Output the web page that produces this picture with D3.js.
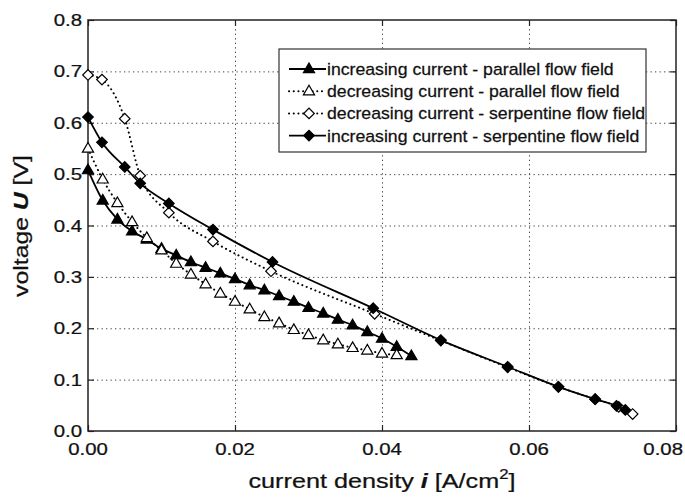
<!DOCTYPE html>
<html>
  <head>
    <meta charset="UTF-8" />
    <script src="https://d3js.org/d3.v7.min.js"></script>
    <style>
      body { margin: 0; background: #fff; }
      text { font-family: "Liberation Sans", Arial, sans-serif; fill: #111; stroke: #111; stroke-width: 0.25; }
    </style>
  </head>
  <body>
    <div id="chart"></div>
    <script>
      // values
      // increasing current - parallel flow field (filled triangles)
      var iParInc = [0, 0.002, 0.004, 0.006, 0.008, 0.010, 0.012, 0.014, 0.016, 0.018, 0.020, 0.022,
                     0.024, 0.026, 0.028, 0.030, 0.032, 0.034, 0.036, 0.038, 0.040, 0.042, 0.044];
      var uParInc = [0.508, 0.449, 0.412, 0.389, 0.373, 0.355, 0.342, 0.329, 0.318, 0.307, 0.296, 0.284,
                     0.274, 0.263, 0.252, 0.240, 0.229, 0.217, 0.206, 0.193, 0.180, 0.164, 0.146];
      // decreasing current - parallel flow field (open triangles)
      var iParDec = [0, 0.002, 0.004, 0.006, 0.008, 0.010, 0.012, 0.014, 0.016, 0.018, 0.020,
                     0.022, 0.024, 0.026, 0.028, 0.030, 0.032, 0.034, 0.036, 0.038, 0.040, 0.042];
      var uParDec = [0.550, 0.490, 0.444, 0.407, 0.376, 0.352, 0.326, 0.305, 0.286, 0.268, 0.252,
                     0.237, 0.222, 0.210, 0.197, 0.187, 0.177, 0.169, 0.162, 0.157, 0.151, 0.148];
      // decreasing current - serpentine flow field (open diamonds)
      var iSerDec = [0, 0.0019, 0.005, 0.0071, 0.011, 0.017, 0.0249, 0.039, 0.048, 0.0571, 0.064, 0.069, 0.0722, 0.0741];
      var uSerDec = [0.693, 0.684, 0.608, 0.497, 0.425, 0.369, 0.311, 0.228, 0.176, 0.124, 0.086, 0.062, 0.047, 0.033];
      // increasing current - serpentine flow field (filled diamonds)
      var iSerInc = [0, 0.0019, 0.005, 0.0071, 0.011, 0.017, 0.0251, 0.0388, 0.048, 0.0571, 0.064, 0.069, 0.0719, 0.0731];
      var uSerInc = [0.611, 0.562, 0.514, 0.482, 0.443, 0.392, 0.329, 0.239, 0.177, 0.125, 0.086, 0.062, 0.049, 0.041];

      var legendLabels = ["increasing current - parallel flow field",
                          "decreasing current - parallel flow field",
                          "decreasing current - serpentine flow field",
                          "increasing current - serpentine flow field"];
      var xTicks = [0, 0.02, 0.04, 0.06, 0.08];
      var yTicks = [0, 0.1, 0.2, 0.3, 0.4, 0.5, 0.6, 0.7, 0.8];

      var width = 685, height = 498;
      var margin = { top: 20, right: 9, bottom: 67, left: 88 };

      var svg = d3.select("#chart").append("svg")
        .attr("width", width).attr("height", height);

      var x = d3.scaleLinear().domain([0, 0.08]).range([margin.left, width - margin.right]);
      var y = d3.scaleLinear().domain([0, 0.8]).range([height - margin.bottom, margin.top]);

      var series = [
        { i: iParInc, u: uParInc, marker: "tri", fill: true, dotted: false },
        { i: iParDec, u: uParDec, marker: "tri", fill: false, dotted: true },
        { i: iSerDec, u: uSerDec, marker: "dia", fill: false, dotted: true },
        { i: iSerInc, u: uSerInc, marker: "dia", fill: true, dotted: false }
      ];

      // grid
      var gridStyle = function (g) {
        g.select(".domain").remove();
        g.selectAll("line").attr("stroke", "#444").attr("stroke-width", 1)
          .attr("stroke-dasharray", "1.3,3.2");
      };
      svg.append("g")
        .attr("transform", "translate(0," + y(0) + ")")
        .call(d3.axisBottom(x).tickValues([0.02, 0.04, 0.06]).tickSize(-(y(0) - y(0.8))).tickFormat(""))
        .call(gridStyle);
      svg.append("g")
        .attr("transform", "translate(" + x(0) + ",0)")
        .call(d3.axisLeft(y).tickValues([0.1, 0.2, 0.3, 0.4, 0.5, 0.6, 0.7]).tickSize(-(x(0.08) - x(0))).tickFormat(""))
        .call(gridStyle);

      // inward ticks on all four sides
      var tickStyle = function (g) {
        g.select(".domain").remove();
        g.selectAll("line").attr("stroke", "#222").attr("stroke-width", 1.2);
      };
      svg.append("g").attr("transform", "translate(0," + y(0) + ")")
        .call(d3.axisBottom(x).tickValues(xTicks).tickSize(-6).tickFormat("")).call(tickStyle);
      svg.append("g").attr("transform", "translate(0," + y(0.8) + ")")
        .call(d3.axisTop(x).tickValues(xTicks).tickSize(-6).tickFormat("")).call(tickStyle);
      svg.append("g").attr("transform", "translate(" + x(0) + ",0)")
        .call(d3.axisLeft(y).tickValues(yTicks).tickSize(-6).tickFormat("")).call(tickStyle);
      svg.append("g").attr("transform", "translate(" + x(0.08) + ",0)")
        .call(d3.axisRight(y).tickValues(yTicks).tickSize(-6).tickFormat("")).call(tickStyle);

      // frame
      svg.append("rect")
        .attr("x", x(0)).attr("y", y(0.8))
        .attr("width", x(0.08) - x(0)).attr("height", y(0) - y(0.8))
        .attr("fill", "none").attr("stroke", "#222").attr("stroke-width", 1.5);

      // tick labels (font is a bit wider than Arial, so stretch horizontally)
      function stretched(px, py, sx, size, anchor) {
        return svg.append("text")
          .attr("transform", "translate(" + px + "," + py + ") scale(" + sx + ",1)")
          .attr("font-size", size).attr("text-anchor", anchor);
      }
      yTicks.forEach(function (t) {
        stretched(82, y(t) + 6, 1.2, 17, "end").text(d3.format(".1f")(t));
      });
      xTicks.forEach(function (t, k) {
        var px = x(t), anchor = "middle";
        if (k === xTicks.length - 1) { px = 683; anchor = "end"; }
        stretched(px, 455, 1.2, 17, anchor).text(d3.format(".2f")(t));
      });

      // axis titles
      var xl = stretched(382, 488, 1.2, 21, "middle");
      xl.append("tspan").text("current density ");
      xl.append("tspan").attr("font-weight", "bold").attr("font-style", "italic").text("i");
      xl.append("tspan").text(" [A/cm");
      xl.append("tspan").attr("font-size", 14).attr("dy", -9).text("2");
      xl.append("tspan").attr("dy", 9).text("]");

      var yl = svg.append("text")
        .attr("transform", "translate(28,226) rotate(-90) scale(1.18,1)")
        .attr("font-size", 21).attr("text-anchor", "middle");
      yl.append("tspan").text("voltage ");
      yl.append("tspan").attr("font-weight", "bold").attr("font-style", "italic").text("U");
      yl.append("tspan").text(" [V]");

      // markers
      var triSym = d3.symbol().type(d3.symbolTriangle).size(54);
      var diaSym = d3.symbol().type(d3.symbolSquare).size(56);
      function drawMarker(g, s, px, py) {
        var p = g.append("path")
          .attr("fill", s.fill ? "#000" : "#fff")
          .attr("stroke", "#000").attr("stroke-width", 1.2);
        if (s.marker === "tri") {
          p.attr("d", triSym()).attr("transform", "translate(" + px + "," + (py + 0.5) + ")");
        } else {
          p.attr("d", diaSym()).attr("transform", "translate(" + px + "," + py + ") rotate(45)");
        }
      }

      var line = d3.line().curve(d3.curveMonotoneX)
        .x(function (d) { return x(d[0]); })
        .y(function (d) { return y(d[1]); });

      function styleLine(p, s) {
        p.attr("fill", "none").attr("stroke", "#000");
        if (s.dotted) {
          p.attr("stroke-width", 2).attr("stroke-dasharray", "0.1,4.6").attr("stroke-linecap", "round");
        } else {
          p.attr("stroke-width", 1.8);
        }
      }

      series.forEach(function (s) {
        var pts = s.i.map(function (v, k) { return [v, s.u[k]]; });
        var g = svg.append("g");
        styleLine(g.append("path").attr("d", line(pts)), s);
        pts.forEach(function (d) { drawMarker(g, s, x(d[0]), y(d[1])); });
      });

      // legend
      var lg = svg.append("g");
      lg.append("rect").attr("x", 279).attr("y", 49).attr("width", 367).attr("height", 103)
        .attr("fill", "#fff").attr("stroke", "#333").attr("stroke-width", 1.2);
      series.forEach(function (s, k) {
        var cy = 69 + k * 22.2;
        var p = lg.append("path").attr("d", "M289," + cy + "H326");
        styleLine(p, s);
        drawMarker(lg, s, 309, cy);
        lg.append("text")
          .attr("transform", "translate(327," + (cy + 6) + ") scale(1.04,1)")
          .attr("font-size", 17).text(legendLabels[k]);
      });
    </script>
  </body>
</html>
